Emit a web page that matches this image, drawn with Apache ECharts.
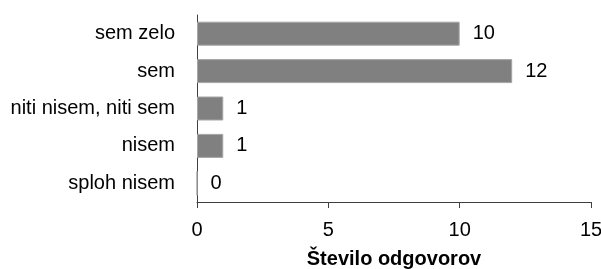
<!DOCTYPE html>
<html>
<head>
<meta charset="utf-8">
<script src="https://cdn.jsdelivr.net/npm/echarts@6/dist/echarts.min.js"></script>
<style>
    html, body { margin: 0; padding: 0; background: #fff; }
    #chart { width: 601px; height: 269px; }
</style>
</head>
<body>
<div id="chart"></div>
<script>
// kategorije od spodaj navzgor (ECharts riše kategorije od dna)
const categories = ['sploh nisem', 'nisem', 'niti nisem, niti sem', 'sem', 'sem zelo'];
const counts = [0, 1, 1, 12, 10];
const axisTitle = 'Število odgovorov';

const myChart = echarts.init(document.getElementById('chart'));

const option = {
    animation: false,
    textStyle: { fontFamily: 'Liberation Sans, Arial, sans-serif' },
    grid: {
        left: 197,
        right: 10,
        top: 15,
        bottom: 67,
        containLabel: false,
        outerBoundsMode: 'none'
    },
    xAxis: {
        type: 'value',
        min: 0,
        max: 15,
        interval: 5,
        name: axisTitle,
        nameLocation: 'middle',
        nameGap: 47,
        nameTextStyle: { color: '#000', fontSize: 20, fontWeight: 'bold' },
        axisLine: { show: true, lineStyle: { color: '#404040', width: 1 } },
        axisTick: { show: true, length: 6, lineStyle: { color: '#404040' } },
        axisLabel: { color: '#000', fontSize: 20, margin: 18 },
        splitLine: { show: false }
    },
    yAxis: {
        type: 'category',
        data: categories,
        axisLine: { show: true, lineStyle: { color: '#404040', width: 1 } },
        axisTick: { show: false },
        axisLabel: { color: '#000', fontSize: 20, margin: 22 }
    },
    series: [
        {
            type: 'bar',
            data: counts,
            barWidth: 24,
            itemStyle: { color: '#808080', borderColor: '#a6a6a6', borderWidth: 1 },
            label: {
                show: true,
                position: 'right',
                distance: 13,
                color: '#000',
                fontSize: 20
            }
        }
    ]
};

myChart.setOption(option);

window.addEventListener('resize', function () {
    myChart.resize();
});
</script>
</body>
</html>
